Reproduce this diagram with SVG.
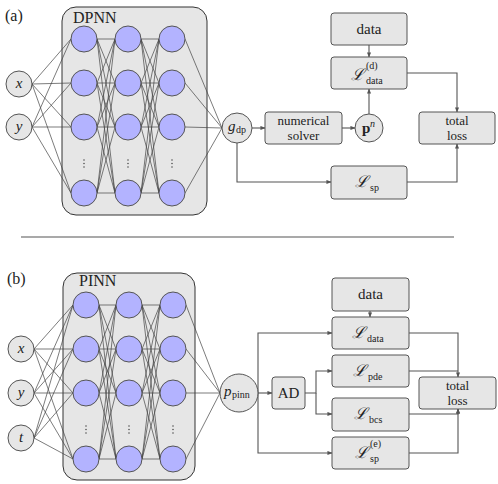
<svg xmlns="http://www.w3.org/2000/svg" width="498" height="484" viewBox="0 0 498 484" font-family="Liberation Serif, DejaVu Serif, serif">
<style>
text{fill:#222}
.lbl{font-size:16px}
.t{font-size:15px;text-anchor:middle}
.t2{font-size:13px;text-anchor:middle}
.it{font-style:italic}
.s{font-size:10px}
.L{font-size:16px;font-style:italic}
.frame{fill:#e6e6e6;stroke:#333;stroke-width:1}
.box{fill:#e6e6e6;stroke:#555;stroke-width:1}
.io{fill:#e6e6e6;stroke:#555;stroke-width:1}
.neu{fill:#b3b3ff;stroke:#555;stroke-width:1}
.nn{fill:none;stroke:#444;stroke-width:0.7}
.con{fill:none;stroke:#555;stroke-width:1.1}
.dot{fill:#333}
</style>
<defs>
<marker id="ah" viewBox="0 0 6 6" refX="5.5" refY="3" markerWidth="5" markerHeight="5" orient="auto" markerUnits="userSpaceOnUse">
<path d="M0,0.5 L6,3 L0,5.5 z" fill="#555"/>
</marker>
</defs>

<!-- Panel (a) -->
<text class="lbl" x="5" y="21">(a)</text>
<g id="dpnn">
<rect class="frame" x="62" y="7" width="145" height="208" rx="14"/>
<text class="lbl" x="73" y="23">DPNN</text>
</g>

<g id="connectors-nn-a">
<path class="nn" d="M32,84 L71,39 M32,84 L71,83 M32,84 L71,127 M32,84 L71,193 M32,127 L71,39 M32,127 L71,83 M32,127 L71,127 M32,127 L71,193
M97,39 L115,39 M97,39 L115,83 M97,39 L115,127 M97,39 L115,193 M97,83 L115,39 M97,83 L115,83 M97,83 L115,127 M97,83 L115,193 M97,127 L115,39 M97,127 L115,83 M97,127 L115,127 M97,127 L115,193 M97,193 L115,39 M97,193 L115,83 M97,193 L115,127 M97,193 L115,193
M141,39 L159,39 M141,39 L159,83 M141,39 L159,127 M141,39 L159,193 M141,83 L159,39 M141,83 L159,83 M141,83 L159,127 M141,83 L159,193 M141,127 L159,39 M141,127 L159,83 M141,127 L159,127 M141,127 L159,193 M141,193 L159,39 M141,193 L159,83 M141,193 L159,127 M141,193 L159,193
M185,39 L222,128 M185,83 L222,128 M185,127 L222,128 M185,193 L222,128"/>
</g>

<g id="in-x-a"><circle class="io" cx="19" cy="84" r="13"/><text class="t it" x="19" y="88">x</text></g>
<g id="in-y-a"><circle class="io" cx="19" cy="127" r="13"/><text class="t it" x="19" y="131">y</text></g>

<g id="neurons-a">
<circle class="neu" cx="84" cy="39" r="13"/><circle class="neu" cx="84" cy="83" r="13"/><circle class="neu" cx="84" cy="127" r="13"/><circle class="neu" cx="84" cy="193" r="13"/>
<circle class="neu" cx="128" cy="39" r="13"/><circle class="neu" cx="128" cy="83" r="13"/><circle class="neu" cx="128" cy="127" r="13"/><circle class="neu" cx="128" cy="193" r="13"/>
<circle class="neu" cx="172" cy="39" r="13"/><circle class="neu" cx="172" cy="83" r="13"/><circle class="neu" cx="172" cy="127" r="13"/><circle class="neu" cx="172" cy="193" r="13"/>
<circle class="dot" cx="84" cy="160" r="0.7"/><circle class="dot" cx="84" cy="163.5" r="0.7"/><circle class="dot" cx="84" cy="167" r="0.7"/>
<circle class="dot" cx="128" cy="160" r="0.7"/><circle class="dot" cx="128" cy="163.5" r="0.7"/><circle class="dot" cx="128" cy="167" r="0.7"/>
<circle class="dot" cx="172" cy="160" r="0.7"/><circle class="dot" cx="172" cy="163.5" r="0.7"/><circle class="dot" cx="172" cy="167" r="0.7"/>
</g>

<g id="connectors-a">
<path class="con" d="M369,45 V57" marker-end="url(#ah)"/>
<path class="con" d="M252,128 H265" marker-end="url(#ah)"/>
<path class="con" d="M342,128 H355" marker-end="url(#ah)"/>
<path class="con" d="M369,114 V89" marker-end="url(#ah)"/>
<path class="con" d="M407,73 H457 V112" marker-end="url(#ah)"/>
<path class="con" d="M237,143 V182 H331" marker-end="url(#ah)"/>
<path class="con" d="M407,182 H457 V144" marker-end="url(#ah)"/>
</g>

<g id="gdp"><circle class="io" cx="237" cy="128" r="15"/><text x="228" y="131" class="it" font-size="15">g</text><text x="236" y="133" class="s">dp</text></g>
<g id="data-a"><rect class="box" x="331" y="13" width="76" height="32" rx="3"/><text class="t" x="369" y="34">data</text></g>
<g id="ldata-a"><rect class="box" x="331" y="57" width="76" height="32" rx="3"/><text class="L" x="351" y="80">ℒ</text><text class="s" x="366" y="69">(d)</text><text class="s" x="366" y="84">data</text></g>
<g id="solver"><rect class="box" x="265" y="112" width="77" height="32" rx="3"/><text class="t2" x="303.5" y="125">numerical</text><text class="t2" x="303.5" y="140">solver</text></g>
<g id="pn"><circle class="io" cx="369" cy="128" r="14"/><text x="362" y="133" font-size="15" font-weight="bold">p</text><text x="370" y="127" class="s it">n</text></g>
<g id="total-a"><rect class="box" x="419" y="112" width="76" height="32" rx="3"/><text class="t2" x="457" y="125">total</text><text class="t2" x="457" y="140">loss</text></g>
<g id="lsp-a"><rect class="box" x="331" y="166" width="76" height="33" rx="3"/><text class="L" x="355" y="187">ℒ</text><text class="s" x="370" y="191">sp</text></g>

<line x1="21" y1="237" x2="454" y2="237" stroke="#555" stroke-width="1.1"/>

<!-- Panel (b) -->
<text class="lbl" x="7" y="284">(b)</text>
<g id="pinn">
<rect class="frame" x="63" y="273" width="132" height="207" rx="14"/>
<text class="lbl" x="79" y="286">PINN</text>
</g>

<g id="connectors-nn-b">
<path class="nn" d="M34,349 L73,305 M34,349 L73,349 M34,349 L73,393 M34,349 L73,459 M34,393 L73,305 M34,393 L73,349 M34,393 L73,393 M34,393 L73,459 M34,438 L73,305 M34,438 L73,349 M34,438 L73,393 M34,438 L73,459
M99,305 L116,305 M99,305 L116,349 M99,305 L116,393 M99,305 L116,459 M99,349 L116,305 M99,349 L116,349 M99,349 L116,393 M99,349 L116,459 M99,393 L116,305 M99,393 L116,349 M99,393 L116,393 M99,393 L116,459 M99,459 L116,305 M99,459 L116,349 M99,459 L116,393 M99,459 L116,459
M142,305 L160,305 M142,305 L160,349 M142,305 L160,393 M142,305 L160,459 M142,349 L160,305 M142,349 L160,349 M142,349 L160,393 M142,349 L160,459 M142,393 L160,305 M142,393 L160,349 M142,393 L160,393 M142,393 L160,459 M142,459 L160,305 M142,459 L160,349 M142,459 L160,393 M142,459 L160,459
M186,305 L220,393 M186,349 L220,393 M186,393 L220,393 M186,459 L220,393"/>
</g>

<g id="in-x-b"><circle class="io" cx="21" cy="349" r="13"/><text class="t it" x="21" y="353">x</text></g>
<g id="in-y-b"><circle class="io" cx="21" cy="393" r="13"/><text class="t it" x="21" y="397">y</text></g>
<g id="in-t-b"><circle class="io" cx="21" cy="438" r="13"/><text class="t it" x="21" y="442">t</text></g>

<g id="neurons-b">
<circle class="neu" cx="86" cy="305" r="13"/><circle class="neu" cx="86" cy="349" r="13"/><circle class="neu" cx="86" cy="393" r="13"/><circle class="neu" cx="86" cy="459" r="13"/>
<circle class="neu" cx="129" cy="305" r="13"/><circle class="neu" cx="129" cy="349" r="13"/><circle class="neu" cx="129" cy="393" r="13"/><circle class="neu" cx="129" cy="459" r="13"/>
<circle class="neu" cx="173" cy="305" r="13"/><circle class="neu" cx="173" cy="349" r="13"/><circle class="neu" cx="173" cy="393" r="13"/><circle class="neu" cx="173" cy="459" r="13"/>
<circle class="dot" cx="86" cy="426" r="0.7"/><circle class="dot" cx="86" cy="429.5" r="0.7"/><circle class="dot" cx="86" cy="433" r="0.7"/>
<circle class="dot" cx="129" cy="426" r="0.7"/><circle class="dot" cx="129" cy="429.5" r="0.7"/><circle class="dot" cx="129" cy="433" r="0.7"/>
<circle class="dot" cx="173" cy="426" r="0.7"/><circle class="dot" cx="173" cy="429.5" r="0.7"/><circle class="dot" cx="173" cy="433" r="0.7"/>
</g>

<g id="connectors-b">
<path class="con" d="M370,311 V317" marker-end="url(#ah)"/>
<path class="con" d="M258,393 H272" marker-end="url(#ah)"/>
<path class="con" d="M258,393 V333 H332" marker-end="url(#ah)"/>
<path class="con" d="M258,393 V453 H332" marker-end="url(#ah)"/>
<path class="con" d="M305,393 H316 V371 H332" marker-end="url(#ah)"/>
<path class="con" d="M316,393 V414 H332" marker-end="url(#ah)"/>
<path class="con" d="M409,333 H458 V377" marker-end="url(#ah)"/>
<path class="con" d="M409,371 H458"/>
<path class="con" d="M409,414 H458 V409" marker-end="url(#ah)"/>
<path class="con" d="M409,453 H458 V409" marker-end="url(#ah)"/>
</g>

<g id="ppinn"><circle class="io" cx="239" cy="393" r="19"/><text x="224" y="396" class="it" font-size="15">p</text><text x="232" y="398" class="s">pinn</text></g>
<g id="ad"><rect class="box" x="272" y="377" width="33" height="32" rx="3"/><text class="t" x="288.5" y="398">AD</text></g>
<g id="data-b"><rect class="box" x="332" y="278" width="77" height="33" rx="3"/><text class="t" x="370.5" y="299">data</text></g>
<g id="ldata-b"><rect class="box" x="332" y="317" width="77" height="32" rx="3"/><text class="L" x="352" y="338">ℒ</text><text class="s" x="367" y="342">data</text></g>
<g id="lpde-b"><rect class="box" x="332" y="355" width="77" height="32" rx="3"/><text class="L" x="353" y="376">ℒ</text><text class="s" x="368" y="380">pde</text></g>
<g id="lbcs-b"><rect class="box" x="332" y="398" width="77" height="33" rx="3"/><text class="L" x="354" y="419">ℒ</text><text class="s" x="369" y="423">bcs</text></g>
<g id="lsp-b"><rect class="box" x="332" y="437" width="77" height="32" rx="3"/><text class="L" x="355" y="458">ℒ</text><text class="s" x="370" y="447">(e)</text><text class="s" x="370" y="462">sp</text></g>
<g id="total-b"><rect class="box" x="419" y="377" width="77" height="32" rx="3"/><text class="t2" x="457.5" y="390">total</text><text class="t2" x="457.5" y="405">loss</text></g>
</svg>
